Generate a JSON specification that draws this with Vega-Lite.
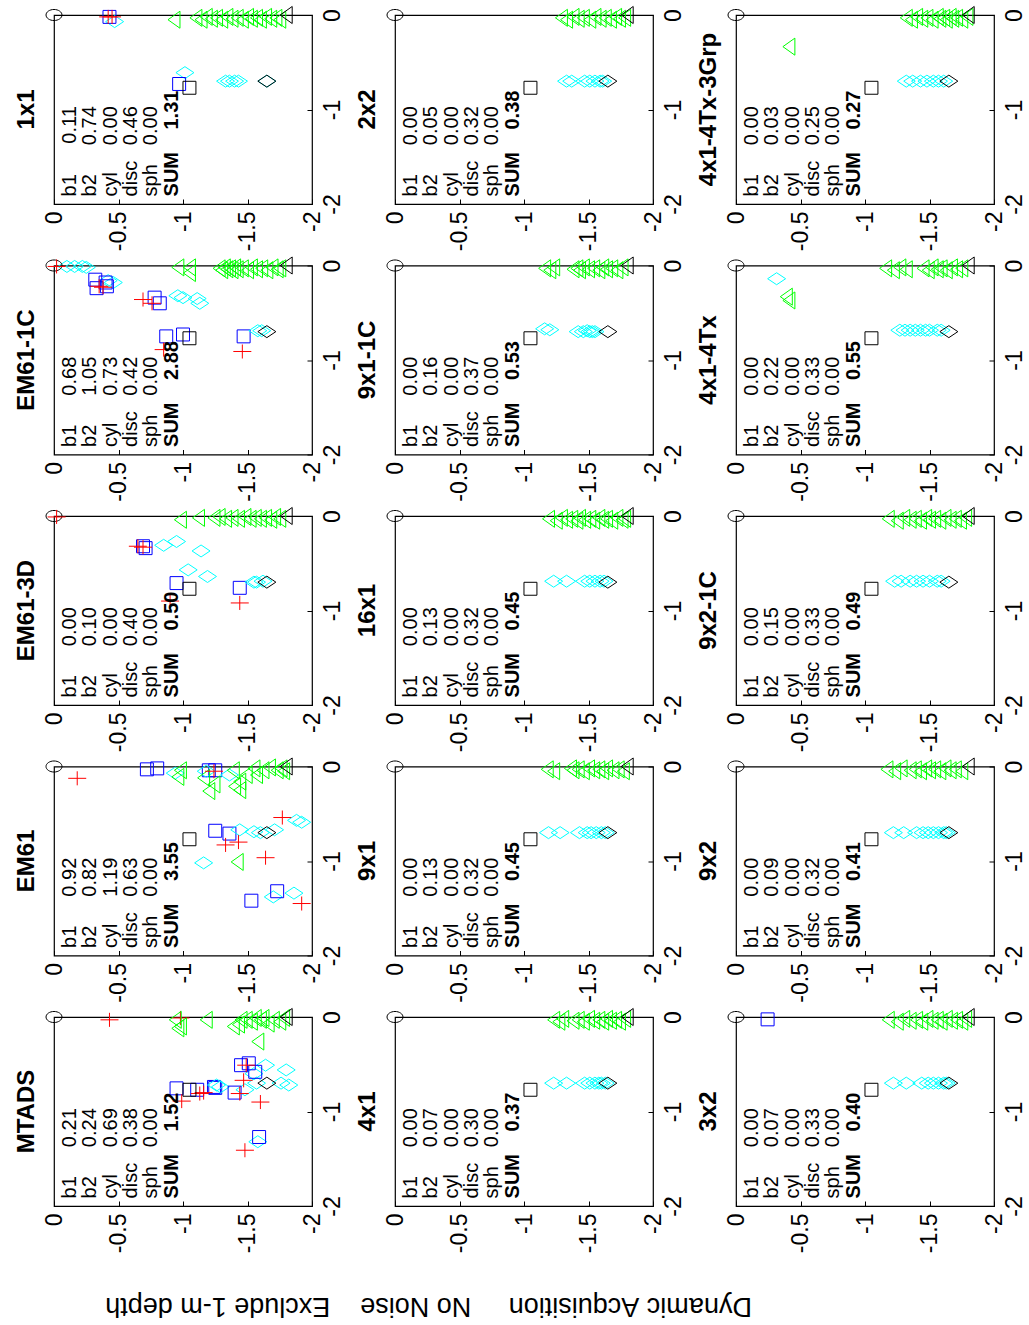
{
"$schema":"https://vega.github.io/schema/vega-lite/v6.json",
"background":"white",
"padding":{"left":14,"top":3,"right":0,"bottom":0},
"columns":3,
"spacing":{"row":61.5,"column":83},
"bounds":"flush",
"title":{"text":"Dynamic\u00a0Acquisition\u00a0\u00a0\u00a0\u00a0\u00a0No\u00a0Noise\u00a0\u00a0\u00a0\u00a0Exclude\u00a01-m\u00a0depth","orient":"bottom","angle":180,"fontSize":27,"fontWeight":"normal","anchor":"middle","dx":92,"offset":45,"baseline":"alphabetic","font":"Liberation Sans","color":"black"},
"datasets":{
"txt":[
{"p":"1x1","vals":"0.11\n0.74\n0.00\n0.46\n0.00","sum":"1.31"},
{"p":"2x2","vals":"0.00\n0.05\n0.00\n0.32\n0.00","sum":"0.38"},
{"p":"4x1-4Tx-3Grp","vals":"0.00\n0.03\n0.00\n0.25\n0.00","sum":"0.27"},
{"p":"EM61-1C","vals":"0.68\n1.05\n0.73\n0.42\n0.00","sum":"2.88"},
{"p":"9x1-1C","vals":"0.00\n0.16\n0.00\n0.37\n0.00","sum":"0.53"},
{"p":"4x1-4Tx","vals":"0.00\n0.22\n0.00\n0.33\n0.00","sum":"0.55"},
{"p":"EM61-3D","vals":"0.00\n0.10\n0.00\n0.40\n0.00","sum":"0.50"},
{"p":"16x1","vals":"0.00\n0.13\n0.00\n0.32\n0.00","sum":"0.45"},
{"p":"9x2-1C","vals":"0.00\n0.15\n0.00\n0.33\n0.00","sum":"0.49"},
{"p":"EM61","vals":"0.92\n0.82\n1.19\n0.63\n0.00","sum":"3.55"},
{"p":"9x1","vals":"0.00\n0.13\n0.00\n0.32\n0.00","sum":"0.45"},
{"p":"9x2","vals":"0.00\n0.09\n0.00\n0.32\n0.00","sum":"0.41"},
{"p":"MTADS","vals":"0.21\n0.24\n0.69\n0.38\n0.00","sum":"1.52"},
{"p":"4x1","vals":"0.00\n0.07\n0.00\n0.30\n0.00","sum":"0.37"},
{"p":"3x2","vals":"0.00\n0.07\n0.00\n0.33\n0.00","sum":"0.40"}
],
"pts":[
{"p":"1x1","s":"gT","h":-0.93,"v":-0.05},{"p":"1x1","s":"gT","h":-1.1,"v":-0.03},{"p":"1x1","s":"gT","h":-1.14,"v":-0.05},{"p":"1x1","s":"gT","h":-1.18,"v":-0.02},{"p":"1x1","s":"gT","h":-1.22,"v":-0.04},{"p":"1x1","s":"gT","h":-1.26,"v":-0.03},{"p":"1x1","s":"gT","h":-1.3,"v":-0.05},{"p":"1x1","s":"gT","h":-1.34,"v":-0.02},{"p":"1x1","s":"gT","h":-1.38,"v":-0.04},{"p":"1x1","s":"gT","h":-1.42,"v":-0.03},{"p":"1x1","s":"gT","h":-1.46,"v":-0.05},{"p":"1x1","s":"gT","h":-1.5,"v":-0.02},{"p":"1x1","s":"gT","h":-1.53,"v":-0.04},{"p":"1x1","s":"gT","h":-1.57,"v":-0.03},{"p":"1x1","s":"gT","h":-1.6,"v":-0.05},{"p":"1x1","s":"gT","h":-1.64,"v":-0.02},{"p":"1x1","s":"gT","h":-1.68,"v":-0.04},{"p":"1x1","s":"gT","h":-1.72,"v":-0.03},{"p":"1x1","s":"gT","h":-1.75,"v":-0.05},
{"p":"1x1","s":"cD","h":-0.47,"v":-0.07},{"p":"1x1","s":"bS","h":-0.43,"v":-0.02},{"p":"1x1","s":"rP","h":-0.42,"v":-0.02},{"p":"1x1","s":"rP","h":-0.45,"v":-0.02},
{"p":"1x1","s":"cD","h":-1.015,"v":-0.61},{"p":"1x1","s":"cD","h":-1.33,"v":-0.7},{"p":"1x1","s":"cD","h":-1.36,"v":-0.7},{"p":"1x1","s":"cD","h":-1.4,"v":-0.7},{"p":"1x1","s":"cD","h":-1.43,"v":-0.7},{"p":"1x1","s":"cD","h":-1.65,"v":-0.7},
{"p":"1x1","s":"bS","h":-0.97,"v":-0.73},
{"p":"1x1","s":"O","h":0,"v":0},{"p":"1x1","s":"kT","h":-1.8,"v":0},{"p":"1x1","s":"kD","h":-1.65,"v":-0.7},{"p":"1x1","s":"kS","h":-1.05,"v":-0.77},

{"p":"2x2","s":"gT","h":-1.29,"v":-0.03},{"p":"2x2","s":"gT","h":-1.33,"v":-0.05},{"p":"2x2","s":"gT","h":-1.38,"v":-0.02},{"p":"2x2","s":"gT","h":-1.42,"v":-0.04},{"p":"2x2","s":"gT","h":-1.46,"v":-0.03},{"p":"2x2","s":"gT","h":-1.51,"v":-0.05},{"p":"2x2","s":"gT","h":-1.55,"v":-0.02},{"p":"2x2","s":"gT","h":-1.59,"v":-0.04},{"p":"2x2","s":"gT","h":-1.63,"v":-0.03},{"p":"2x2","s":"gT","h":-1.67,"v":-0.05},{"p":"2x2","s":"gT","h":-1.71,"v":-0.02},{"p":"2x2","s":"gT","h":-1.74,"v":-0.04},{"p":"2x2","s":"gT","h":-1.78,"v":-0.03},
{"p":"2x2","s":"cD","h":-1.33,"v":-0.7},{"p":"2x2","s":"cD","h":-1.37,"v":-0.7},{"p":"2x2","s":"cD","h":-1.47,"v":-0.7},{"p":"2x2","s":"cD","h":-1.51,"v":-0.7},{"p":"2x2","s":"cD","h":-1.55,"v":-0.7},{"p":"2x2","s":"cD","h":-1.59,"v":-0.7},{"p":"2x2","s":"cD","h":-1.61,"v":-0.7},
{"p":"2x2","s":"O","h":0,"v":0},{"p":"2x2","s":"kT","h":-1.8,"v":0},{"p":"2x2","s":"kD","h":-1.65,"v":-0.7},{"p":"2x2","s":"kS","h":-1.05,"v":-0.77},

{"p":"4x1-4Tx-3Grp","s":"gT","h":-0.41,"v":-0.335},
{"p":"4x1-4Tx-3Grp","s":"gT","h":-1.32,"v":-0.03},{"p":"4x1-4Tx-3Grp","s":"gT","h":-1.36,"v":-0.05},{"p":"4x1-4Tx-3Grp","s":"gT","h":-1.4,"v":-0.02},{"p":"4x1-4Tx-3Grp","s":"gT","h":-1.44,"v":-0.04},{"p":"4x1-4Tx-3Grp","s":"gT","h":-1.48,"v":-0.03},{"p":"4x1-4Tx-3Grp","s":"gT","h":-1.52,"v":-0.05},{"p":"4x1-4Tx-3Grp","s":"gT","h":-1.56,"v":-0.02},{"p":"4x1-4Tx-3Grp","s":"gT","h":-1.58,"v":-0.04},{"p":"4x1-4Tx-3Grp","s":"gT","h":-1.61,"v":-0.03},{"p":"4x1-4Tx-3Grp","s":"gT","h":-1.63,"v":-0.05},{"p":"4x1-4Tx-3Grp","s":"gT","h":-1.66,"v":-0.02},{"p":"4x1-4Tx-3Grp","s":"gT","h":-1.68,"v":-0.04},{"p":"4x1-4Tx-3Grp","s":"gT","h":-1.71,"v":-0.03},{"p":"4x1-4Tx-3Grp","s":"gT","h":-1.75,"v":-0.05},{"p":"4x1-4Tx-3Grp","s":"gT","h":-1.79,"v":-0.02},
{"p":"4x1-4Tx-3Grp","s":"cD","h":-1.32,"v":-0.7},{"p":"4x1-4Tx-3Grp","s":"cD","h":-1.37,"v":-0.7},{"p":"4x1-4Tx-3Grp","s":"cD","h":-1.43,"v":-0.7},{"p":"4x1-4Tx-3Grp","s":"cD","h":-1.48,"v":-0.7},{"p":"4x1-4Tx-3Grp","s":"cD","h":-1.53,"v":-0.7},{"p":"4x1-4Tx-3Grp","s":"cD","h":-1.57,"v":-0.7},{"p":"4x1-4Tx-3Grp","s":"cD","h":-1.61,"v":-0.7},
{"p":"4x1-4Tx-3Grp","s":"O","h":0,"v":0},{"p":"4x1-4Tx-3Grp","s":"kT","h":-1.8,"v":0},{"p":"4x1-4Tx-3Grp","s":"kD","h":-1.65,"v":-0.7},{"p":"4x1-4Tx-3Grp","s":"kS","h":-1.05,"v":-0.77},

{"p":"EM61-1C","s":"cD","h":-0.1,"v":-0.01},{"p":"EM61-1C","s":"cD","h":-0.16,"v":-0.01},{"p":"EM61-1C","s":"cD","h":-0.22,"v":-0.01},{"p":"EM61-1C","s":"cD","h":-0.25,"v":-0.02},
{"p":"EM61-1C","s":"gT","h":-0.96,"v":-0.02},{"p":"EM61-1C","s":"gT","h":-1.05,"v":-0.02},{"p":"EM61-1C","s":"gT","h":-1.05,"v":-0.08},{"p":"EM61-1C","s":"gT","h":-1.28,"v":-0.03},{"p":"EM61-1C","s":"gT","h":-1.3,"v":-0.05},{"p":"EM61-1C","s":"gT","h":-1.32,"v":-0.02},{"p":"EM61-1C","s":"gT","h":-1.34,"v":-0.04},{"p":"EM61-1C","s":"gT","h":-1.36,"v":-0.03},{"p":"EM61-1C","s":"gT","h":-1.38,"v":-0.05},{"p":"EM61-1C","s":"gT","h":-1.4,"v":-0.02},{"p":"EM61-1C","s":"gT","h":-1.42,"v":-0.04},{"p":"EM61-1C","s":"gT","h":-1.46,"v":-0.03},{"p":"EM61-1C","s":"gT","h":-1.5,"v":-0.05},{"p":"EM61-1C","s":"gT","h":-1.53,"v":-0.02},{"p":"EM61-1C","s":"gT","h":-1.57,"v":-0.04},{"p":"EM61-1C","s":"gT","h":-1.61,"v":-0.03},{"p":"EM61-1C","s":"gT","h":-1.65,"v":-0.05},{"p":"EM61-1C","s":"gT","h":-1.69,"v":-0.02},{"p":"EM61-1C","s":"gT","h":-1.73,"v":-0.04},{"p":"EM61-1C","s":"gT","h":-1.75,"v":-0.03},
{"p":"EM61-1C","s":"cD","h":-0.42,"v":-0.16},{"p":"EM61-1C","s":"cD","h":-0.46,"v":-0.18},
{"p":"EM61-1C","s":"bS","h":-0.32,"v":-0.15},{"p":"EM61-1C","s":"bS","h":-0.33,"v":-0.24},{"p":"EM61-1C","s":"bS","h":-0.4,"v":-0.18},{"p":"EM61-1C","s":"bS","h":-0.41,"v":-0.22},
{"p":"EM61-1C","s":"rP","h":-0.35,"v":-0.22},{"p":"EM61-1C","s":"rP","h":-0.38,"v":-0.23},
{"p":"EM61-1C","s":"bS","h":-0.78,"v":-0.34},{"p":"EM61-1C","s":"bS","h":-0.82,"v":-0.4},
{"p":"EM61-1C","s":"rP","h":-0.69,"v":-0.36},{"p":"EM61-1C","s":"rP","h":-0.76,"v":-0.4},
{"p":"EM61-1C","s":"cD","h":-0.96,"v":-0.32},{"p":"EM61-1C","s":"cD","h":-1.0,"v":-0.34},{"p":"EM61-1C","s":"cD","h":-1.11,"v":-0.35},{"p":"EM61-1C","s":"cD","h":-1.13,"v":-0.4},
{"p":"EM61-1C","s":"bS","h":-0.87,"v":-0.75},{"p":"EM61-1C","s":"bS","h":-1.0,"v":-0.73},{"p":"EM61-1C","s":"bS","h":-1.47,"v":-0.75},
{"p":"EM61-1C","s":"rP","h":-0.85,"v":-0.89},{"p":"EM61-1C","s":"rP","h":-1.46,"v":-0.91},
{"p":"EM61-1C","s":"cD","h":-1.58,"v":-0.69},{"p":"EM61-1C","s":"cD","h":-1.61,"v":-0.69},
{"p":"EM61-1C","s":"O","h":0,"v":0},{"p":"EM61-1C","s":"rP","h":-0.02,"v":-0.01},{"p":"EM61-1C","s":"kT","h":-1.8,"v":0},{"p":"EM61-1C","s":"kD","h":-1.65,"v":-0.7},{"p":"EM61-1C","s":"kS","h":-1.05,"v":-0.77},

{"p":"9x1-1C","s":"gT","h":-1.16,"v":-0.03},{"p":"9x1-1C","s":"gT","h":-1.2,"v":-0.05},{"p":"9x1-1C","s":"gT","h":-1.23,"v":-0.02},{"p":"9x1-1C","s":"gT","h":-1.38,"v":-0.04},{"p":"9x1-1C","s":"gT","h":-1.41,"v":-0.03},{"p":"9x1-1C","s":"gT","h":-1.43,"v":-0.05},{"p":"9x1-1C","s":"gT","h":-1.46,"v":-0.02},{"p":"9x1-1C","s":"gT","h":-1.5,"v":-0.04},{"p":"9x1-1C","s":"gT","h":-1.54,"v":-0.03},{"p":"9x1-1C","s":"gT","h":-1.58,"v":-0.05},{"p":"9x1-1C","s":"gT","h":-1.61,"v":-0.02},{"p":"9x1-1C","s":"gT","h":-1.64,"v":-0.04},{"p":"9x1-1C","s":"gT","h":-1.68,"v":-0.03},{"p":"9x1-1C","s":"gT","h":-1.72,"v":-0.05},{"p":"9x1-1C","s":"gT","h":-1.76,"v":-0.02},
{"p":"9x1-1C","s":"cD","h":-1.16,"v":-0.67},{"p":"9x1-1C","s":"cD","h":-1.2,"v":-0.68},{"p":"9x1-1C","s":"cD","h":-1.42,"v":-0.7},{"p":"9x1-1C","s":"cD","h":-1.46,"v":-0.7},{"p":"9x1-1C","s":"cD","h":-1.49,"v":-0.69},{"p":"9x1-1C","s":"cD","h":-1.51,"v":-0.7},{"p":"9x1-1C","s":"cD","h":-1.53,"v":-0.7},{"p":"9x1-1C","s":"cD","h":-1.55,"v":-0.7},
{"p":"9x1-1C","s":"O","h":0,"v":0},{"p":"9x1-1C","s":"kT","h":-1.8,"v":0},{"p":"9x1-1C","s":"kD","h":-1.65,"v":-0.7},{"p":"9x1-1C","s":"kS","h":-1.05,"v":-0.77},

{"p":"4x1-4Tx","s":"cD","h":-0.315,"v":-0.14},{"p":"4x1-4Tx","s":"gT","h":-0.39,"v":-0.33},{"p":"4x1-4Tx","s":"gT","h":-0.41,"v":-0.37},
{"p":"4x1-4Tx","s":"gT","h":-1.16,"v":-0.03},{"p":"4x1-4Tx","s":"gT","h":-1.22,"v":-0.05},{"p":"4x1-4Tx","s":"gT","h":-1.27,"v":-0.02},{"p":"4x1-4Tx","s":"gT","h":-1.32,"v":-0.04},{"p":"4x1-4Tx","s":"gT","h":-1.45,"v":-0.03},{"p":"4x1-4Tx","s":"gT","h":-1.49,"v":-0.05},{"p":"4x1-4Tx","s":"gT","h":-1.52,"v":-0.02},{"p":"4x1-4Tx","s":"gT","h":-1.56,"v":-0.04},{"p":"4x1-4Tx","s":"gT","h":-1.59,"v":-0.03},{"p":"4x1-4Tx","s":"gT","h":-1.63,"v":-0.05},{"p":"4x1-4Tx","s":"gT","h":-1.67,"v":-0.02},{"p":"4x1-4Tx","s":"gT","h":-1.71,"v":-0.04},{"p":"4x1-4Tx","s":"gT","h":-1.75,"v":-0.03},
{"p":"4x1-4Tx","s":"cD","h":-1.27,"v":-0.685},{"p":"4x1-4Tx","s":"cD","h":-1.31,"v":-0.685},{"p":"4x1-4Tx","s":"cD","h":-1.35,"v":-0.685},{"p":"4x1-4Tx","s":"cD","h":-1.39,"v":-0.685},{"p":"4x1-4Tx","s":"cD","h":-1.43,"v":-0.685},{"p":"4x1-4Tx","s":"cD","h":-1.47,"v":-0.685},{"p":"4x1-4Tx","s":"cD","h":-1.5,"v":-0.685},{"p":"4x1-4Tx","s":"cD","h":-1.56,"v":-0.685},{"p":"4x1-4Tx","s":"cD","h":-1.59,"v":-0.685},
{"p":"4x1-4Tx","s":"O","h":0,"v":0},{"p":"4x1-4Tx","s":"kT","h":-1.8,"v":0},{"p":"4x1-4Tx","s":"kD","h":-1.65,"v":-0.7},{"p":"4x1-4Tx","s":"kS","h":-1.05,"v":-0.77},

{"p":"EM61-3D","s":"gT","h":-0.98,"v":-0.04},{"p":"EM61-3D","s":"gT","h":-1.12,"v":-0.02},{"p":"EM61-3D","s":"gT","h":-1.24,"v":-0.02},{"p":"EM61-3D","s":"gT","h":-1.28,"v":-0.01},{"p":"EM61-3D","s":"gT","h":-1.33,"v":-0.03},{"p":"EM61-3D","s":"gT","h":-1.38,"v":-0.02},{"p":"EM61-3D","s":"gT","h":-1.43,"v":-0.03},{"p":"EM61-3D","s":"gT","h":-1.48,"v":-0.01},{"p":"EM61-3D","s":"gT","h":-1.52,"v":-0.03},{"p":"EM61-3D","s":"gT","h":-1.56,"v":-0.02},{"p":"EM61-3D","s":"gT","h":-1.6,"v":-0.03},{"p":"EM61-3D","s":"gT","h":-1.64,"v":-0.02},{"p":"EM61-3D","s":"gT","h":-1.68,"v":-0.04},{"p":"EM61-3D","s":"gT","h":-1.71,"v":-0.01},{"p":"EM61-3D","s":"gT","h":-1.75,"v":-0.03},
{"p":"EM61-3D","s":"bS","h":-0.69,"v":-0.32},{"p":"EM61-3D","s":"bS","h":-0.71,"v":-0.34},
{"p":"EM61-3D","s":"rP","h":-0.65,"v":-0.32},{"p":"EM61-3D","s":"rP","h":-0.69,"v":-0.33},
{"p":"EM61-3D","s":"cD","h":-0.85,"v":-0.31},{"p":"EM61-3D","s":"cD","h":-0.95,"v":-0.27},{"p":"EM61-3D","s":"cD","h":-1.14,"v":-0.37},{"p":"EM61-3D","s":"cD","h":-1.04,"v":-0.57},{"p":"EM61-3D","s":"cD","h":-1.19,"v":-0.64},
{"p":"EM61-3D","s":"bS","h":-0.95,"v":-0.71},{"p":"EM61-3D","s":"bS","h":-1.44,"v":-0.76},
{"p":"EM61-3D","s":"rP","h":-0.9,"v":-0.9},{"p":"EM61-3D","s":"rP","h":-1.44,"v":-0.92},
{"p":"EM61-3D","s":"cD","h":-1.55,"v":-0.7},{"p":"EM61-3D","s":"cD","h":-1.57,"v":-0.7},{"p":"EM61-3D","s":"cD","h":-1.62,"v":-0.69},
{"p":"EM61-3D","s":"O","h":0,"v":0},{"p":"EM61-3D","s":"rP","h":-0.02,"v":-0.01},{"p":"EM61-3D","s":"kT","h":-1.8,"v":0},{"p":"EM61-3D","s":"kD","h":-1.65,"v":-0.7},{"p":"EM61-3D","s":"kS","h":-1.05,"v":-0.77},

{"p":"16x1","s":"gT","h":-1.19,"v":-0.03},{"p":"16x1","s":"gT","h":-1.25,"v":-0.05},{"p":"16x1","s":"gT","h":-1.29,"v":-0.02},{"p":"16x1","s":"gT","h":-1.33,"v":-0.04},{"p":"16x1","s":"gT","h":-1.37,"v":-0.03},{"p":"16x1","s":"gT","h":-1.41,"v":-0.05},{"p":"16x1","s":"gT","h":-1.43,"v":-0.02},{"p":"16x1","s":"gT","h":-1.47,"v":-0.04},{"p":"16x1","s":"gT","h":-1.51,"v":-0.03},{"p":"16x1","s":"gT","h":-1.54,"v":-0.05},{"p":"16x1","s":"gT","h":-1.58,"v":-0.02},{"p":"16x1","s":"gT","h":-1.61,"v":-0.04},{"p":"16x1","s":"gT","h":-1.64,"v":-0.03},{"p":"16x1","s":"gT","h":-1.68,"v":-0.05},{"p":"16x1","s":"gT","h":-1.72,"v":-0.02},{"p":"16x1","s":"gT","h":-1.76,"v":-0.04},{"p":"16x1","s":"gT","h":-1.78,"v":-0.03},
{"p":"16x1","s":"cD","h":-1.23,"v":-0.69},{"p":"16x1","s":"cD","h":-1.33,"v":-0.69},{"p":"16x1","s":"cD","h":-1.47,"v":-0.69},{"p":"16x1","s":"cD","h":-1.51,"v":-0.69},{"p":"16x1","s":"cD","h":-1.55,"v":-0.69},{"p":"16x1","s":"cD","h":-1.59,"v":-0.69},{"p":"16x1","s":"cD","h":-1.62,"v":-0.69},
{"p":"16x1","s":"O","h":0,"v":0},{"p":"16x1","s":"kT","h":-1.8,"v":0},{"p":"16x1","s":"kD","h":-1.65,"v":-0.7},{"p":"16x1","s":"kS","h":-1.05,"v":-0.77},

{"p":"9x2-1C","s":"gT","h":-1.18,"v":-0.03},{"p":"9x2-1C","s":"gT","h":-1.25,"v":-0.05},{"p":"9x2-1C","s":"gT","h":-1.3,"v":-0.02},{"p":"9x2-1C","s":"gT","h":-1.35,"v":-0.04},{"p":"9x2-1C","s":"gT","h":-1.39,"v":-0.03},{"p":"9x2-1C","s":"gT","h":-1.43,"v":-0.05},{"p":"9x2-1C","s":"gT","h":-1.47,"v":-0.02},{"p":"9x2-1C","s":"gT","h":-1.5,"v":-0.04},{"p":"9x2-1C","s":"gT","h":-1.54,"v":-0.03},{"p":"9x2-1C","s":"gT","h":-1.58,"v":-0.05},{"p":"9x2-1C","s":"gT","h":-1.62,"v":-0.02},{"p":"9x2-1C","s":"gT","h":-1.66,"v":-0.04},{"p":"9x2-1C","s":"gT","h":-1.7,"v":-0.03},{"p":"9x2-1C","s":"gT","h":-1.74,"v":-0.05},{"p":"9x2-1C","s":"gT","h":-1.78,"v":-0.02},
{"p":"9x2-1C","s":"cD","h":-1.23,"v":-0.69},{"p":"9x2-1C","s":"cD","h":-1.28,"v":-0.69},{"p":"9x2-1C","s":"cD","h":-1.35,"v":-0.69},{"p":"9x2-1C","s":"cD","h":-1.4,"v":-0.69},{"p":"9x2-1C","s":"cD","h":-1.45,"v":-0.69},{"p":"9x2-1C","s":"cD","h":-1.5,"v":-0.69},{"p":"9x2-1C","s":"cD","h":-1.56,"v":-0.69},{"p":"9x2-1C","s":"cD","h":-1.59,"v":-0.69},
{"p":"9x2-1C","s":"O","h":0,"v":0},{"p":"9x2-1C","s":"kT","h":-1.8,"v":0},{"p":"9x2-1C","s":"kD","h":-1.65,"v":-0.7},{"p":"9x2-1C","s":"kS","h":-1.05,"v":-0.77},

{"p":"EM61","s":"rP","h":-0.18,"v":-0.125},
{"p":"EM61","s":"bS","h":-0.72,"v":-0.03},{"p":"EM61","s":"bS","h":-0.8,"v":-0.02},{"p":"EM61","s":"bS","h":-1.2,"v":-0.04},{"p":"EM61","s":"bS","h":-1.25,"v":-0.04},
{"p":"EM61","s":"cD","h":-0.94,"v":-0.07},{"p":"EM61","s":"cD","h":-1.18,"v":-0.05},{"p":"EM61","s":"cD","h":-1.36,"v":-0.09},
{"p":"EM61","s":"gT","h":-0.98,"v":-0.04},{"p":"EM61","s":"gT","h":-0.96,"v":-0.11},{"p":"EM61","s":"gT","h":-1.16,"v":-0.12},{"p":"EM61","s":"gT","h":-1.2,"v":-0.26},{"p":"EM61","s":"gT","h":-1.24,"v":-0.19},{"p":"EM61","s":"gT","h":-1.39,"v":-0.04},{"p":"EM61","s":"gT","h":-1.4,"v":-0.21},{"p":"EM61","s":"gT","h":-1.44,"v":-0.25},{"p":"EM61","s":"gT","h":-1.44,"v":-0.16},{"p":"EM61","s":"gT","h":-1.49,"v":-0.09},{"p":"EM61","s":"gT","h":-1.55,"v":-0.02},{"p":"EM61","s":"gT","h":-1.57,"v":-0.09},{"p":"EM61","s":"gT","h":-1.62,"v":-0.04},{"p":"EM61","s":"gT","h":-1.67,"v":-0.01},{"p":"EM61","s":"gT","h":-1.73,"v":-0.04},{"p":"EM61","s":"gT","h":-1.76,"v":-0.02},{"p":"EM61","s":"gT","h":-1.78,"v":-0.05},
{"p":"EM61","s":"rP","h":-1.24,"v":-0.05},
{"p":"EM61","s":"bS","h":-1.25,"v":-0.68},{"p":"EM61","s":"bS","h":-1.36,"v":-0.71},
{"p":"EM61","s":"cD","h":-1.44,"v":-0.67},{"p":"EM61","s":"cD","h":-1.55,"v":-0.69},{"p":"EM61","s":"cD","h":-1.6,"v":-0.7},{"p":"EM61","s":"cD","h":-1.71,"v":-0.67},{"p":"EM61","s":"cD","h":-1.88,"v":-0.57},{"p":"EM61","s":"cD","h":-1.92,"v":-0.59},
{"p":"EM61","s":"rP","h":-1.33,"v":-0.83},{"p":"EM61","s":"rP","h":-1.43,"v":-0.8},{"p":"EM61","s":"rP","h":-1.64,"v":-0.965},{"p":"EM61","s":"rP","h":-1.77,"v":-0.54},{"p":"EM61","s":"rP","h":-1.92,"v":-1.45},
{"p":"EM61","s":"cD","h":-1.16,"v":-1.02},{"p":"EM61","s":"gT","h":-1.42,"v":-1.01},
{"p":"EM61","s":"cD","h":-1.7,"v":-1.38},{"p":"EM61","s":"cD","h":-1.86,"v":-1.34},
{"p":"EM61","s":"bS","h":-1.53,"v":-1.42},{"p":"EM61","s":"bS","h":-1.73,"v":-1.32},
{"p":"EM61","s":"O","h":0,"v":0},{"p":"EM61","s":"kT","h":-1.8,"v":0},{"p":"EM61","s":"kD","h":-1.65,"v":-0.7},{"p":"EM61","s":"kS","h":-1.05,"v":-0.77},

{"p":"9x1","s":"gT","h":-1.18,"v":-0.03},{"p":"9x1","s":"gT","h":-1.23,"v":-0.05},{"p":"9x1","s":"gT","h":-1.36,"v":-0.02},{"p":"9x1","s":"gT","h":-1.38,"v":-0.04},{"p":"9x1","s":"gT","h":-1.42,"v":-0.03},{"p":"9x1","s":"gT","h":-1.46,"v":-0.05},{"p":"9x1","s":"gT","h":-1.5,"v":-0.02},{"p":"9x1","s":"gT","h":-1.54,"v":-0.04},{"p":"9x1","s":"gT","h":-1.58,"v":-0.03},{"p":"9x1","s":"gT","h":-1.61,"v":-0.05},{"p":"9x1","s":"gT","h":-1.64,"v":-0.02},{"p":"9x1","s":"gT","h":-1.69,"v":-0.04},{"p":"9x1","s":"gT","h":-1.73,"v":-0.03},{"p":"9x1","s":"gT","h":-1.77,"v":-0.05},
{"p":"9x1","s":"cD","h":-1.19,"v":-0.7},{"p":"9x1","s":"cD","h":-1.28,"v":-0.7},{"p":"9x1","s":"cD","h":-1.43,"v":-0.7},{"p":"9x1","s":"cD","h":-1.49,"v":-0.7},{"p":"9x1","s":"cD","h":-1.52,"v":-0.7},{"p":"9x1","s":"cD","h":-1.56,"v":-0.7},{"p":"9x1","s":"cD","h":-1.6,"v":-0.7},{"p":"9x1","s":"cD","h":-1.63,"v":-0.7},
{"p":"9x1","s":"O","h":0,"v":0},{"p":"9x1","s":"kT","h":-1.8,"v":0},{"p":"9x1","s":"kD","h":-1.65,"v":-0.7},{"p":"9x1","s":"kS","h":-1.05,"v":-0.77},

{"p":"9x2","s":"gT","h":-1.17,"v":-0.03},{"p":"9x2","s":"gT","h":-1.23,"v":-0.05},{"p":"9x2","s":"gT","h":-1.28,"v":-0.02},{"p":"9x2","s":"gT","h":-1.35,"v":-0.04},{"p":"9x2","s":"gT","h":-1.39,"v":-0.03},{"p":"9x2","s":"gT","h":-1.43,"v":-0.05},{"p":"9x2","s":"gT","h":-1.47,"v":-0.02},{"p":"9x2","s":"gT","h":-1.5,"v":-0.04},{"p":"9x2","s":"gT","h":-1.54,"v":-0.03},{"p":"9x2","s":"gT","h":-1.58,"v":-0.05},{"p":"9x2","s":"gT","h":-1.62,"v":-0.02},{"p":"9x2","s":"gT","h":-1.66,"v":-0.04},{"p":"9x2","s":"gT","h":-1.7,"v":-0.03},{"p":"9x2","s":"gT","h":-1.75,"v":-0.05},
{"p":"9x2","s":"cD","h":-1.22,"v":-0.7},{"p":"9x2","s":"cD","h":-1.3,"v":-0.7},{"p":"9x2","s":"cD","h":-1.4,"v":-0.7},{"p":"9x2","s":"cD","h":-1.45,"v":-0.7},{"p":"9x2","s":"cD","h":-1.49,"v":-0.7},{"p":"9x2","s":"cD","h":-1.53,"v":-0.7},{"p":"9x2","s":"cD","h":-1.57,"v":-0.7},{"p":"9x2","s":"cD","h":-1.61,"v":-0.7},{"p":"9x2","s":"cD","h":-1.63,"v":-0.7},
{"p":"9x2","s":"O","h":0,"v":0},{"p":"9x2","s":"kT","h":-1.8,"v":0},{"p":"9x2","s":"kD","h":-1.65,"v":-0.7},{"p":"9x2","s":"kS","h":-1.05,"v":-0.77},

{"p":"MTADS","s":"rP","h":-0.43,"v":-0.03},{"p":"MTADS","s":"rP","h":-0.98,"v":-0.01},
{"p":"MTADS","s":"gT","h":-0.94,"v":-0.03},{"p":"MTADS","s":"gT","h":-0.98,"v":-0.1},{"p":"MTADS","s":"gT","h":-0.96,"v":-0.12},{"p":"MTADS","s":"gT","h":-1.18,"v":-0.03},{"p":"MTADS","s":"gT","h":-1.39,"v":-0.1},{"p":"MTADS","s":"gT","h":-1.43,"v":-0.08},{"p":"MTADS","s":"gT","h":-1.45,"v":-0.03},{"p":"MTADS","s":"gT","h":-1.49,"v":-0.03},{"p":"MTADS","s":"gT","h":-1.53,"v":-0.05},{"p":"MTADS","s":"gT","h":-1.56,"v":-0.01},{"p":"MTADS","s":"gT","h":-1.6,"v":-0.03},{"p":"MTADS","s":"gT","h":-1.62,"v":-0.01},{"p":"MTADS","s":"gT","h":-1.66,"v":-0.07},{"p":"MTADS","s":"gT","h":-1.7,"v":-0.03},{"p":"MTADS","s":"gT","h":-1.75,"v":-0.05},{"p":"MTADS","s":"gT","h":-1.78,"v":-0.01},{"p":"MTADS","s":"gT","h":-1.58,"v":-0.26},
{"p":"MTADS","s":"bS","h":-0.95,"v":-0.755},{"p":"MTADS","s":"bS","h":-1.11,"v":-0.77},{"p":"MTADS","s":"bS","h":-1.24,"v":-0.74},{"p":"MTADS","s":"bS","h":-1.25,"v":-0.75},
{"p":"MTADS","s":"rP","h":-0.99,"v":-0.89},{"p":"MTADS","s":"rP","h":-1.13,"v":-0.81},{"p":"MTADS","s":"rP","h":-1.16,"v":-0.8},
{"p":"MTADS","s":"cD","h":-1.26,"v":-0.72},{"p":"MTADS","s":"cD","h":-1.29,"v":-0.74},
{"p":"MTADS","s":"cD","h":-1.64,"v":-0.51},{"p":"MTADS","s":"cD","h":-1.55,"v":-0.6},{"p":"MTADS","s":"cD","h":-1.57,"v":-0.7},{"p":"MTADS","s":"cD","h":-1.48,"v":-0.77},{"p":"MTADS","s":"cD","h":-1.8,"v":-0.56},{"p":"MTADS","s":"cD","h":-1.76,"v":-0.7},{"p":"MTADS","s":"cD","h":-1.82,"v":-0.72},
{"p":"MTADS","s":"bS","h":-1.45,"v":-0.51},{"p":"MTADS","s":"bS","h":-1.51,"v":-0.49},{"p":"MTADS","s":"bS","h":-1.56,"v":-0.58},{"p":"MTADS","s":"bS","h":-1.4,"v":-0.8},
{"p":"MTADS","s":"rP","h":-1.49,"v":-0.51},{"p":"MTADS","s":"rP","h":-1.47,"v":-0.67},{"p":"MTADS","s":"rP","h":-1.44,"v":-0.81},{"p":"MTADS","s":"rP","h":-1.6,"v":-0.9},{"p":"MTADS","s":"rP","h":-1.48,"v":-1.41},
{"p":"MTADS","s":"cD","h":-1.58,"v":-1.32},{"p":"MTADS","s":"bS","h":-1.59,"v":-1.27},
{"p":"MTADS","s":"O","h":0,"v":0},{"p":"MTADS","s":"kT","h":-1.8,"v":0},{"p":"MTADS","s":"kD","h":-1.65,"v":-0.7},{"p":"MTADS","s":"kS","h":-1.05,"v":-0.77},

{"p":"4x1","s":"gT","h":-1.23,"v":-0.03},{"p":"4x1","s":"gT","h":-1.27,"v":-0.05},{"p":"4x1","s":"gT","h":-1.3,"v":-0.02},{"p":"4x1","s":"gT","h":-1.38,"v":-0.04},{"p":"4x1","s":"gT","h":-1.42,"v":-0.03},{"p":"4x1","s":"gT","h":-1.46,"v":-0.05},{"p":"4x1","s":"gT","h":-1.5,"v":-0.02},{"p":"4x1","s":"gT","h":-1.54,"v":-0.04},{"p":"4x1","s":"gT","h":-1.58,"v":-0.03},{"p":"4x1","s":"gT","h":-1.61,"v":-0.05},{"p":"4x1","s":"gT","h":-1.64,"v":-0.02},{"p":"4x1","s":"gT","h":-1.67,"v":-0.04},{"p":"4x1","s":"gT","h":-1.71,"v":-0.03},{"p":"4x1","s":"gT","h":-1.74,"v":-0.05},{"p":"4x1","s":"gT","h":-1.78,"v":-0.02},
{"p":"4x1","s":"cD","h":-1.23,"v":-0.7},{"p":"4x1","s":"cD","h":-1.33,"v":-0.7},{"p":"4x1","s":"cD","h":-1.47,"v":-0.7},{"p":"4x1","s":"cD","h":-1.51,"v":-0.7},{"p":"4x1","s":"cD","h":-1.55,"v":-0.7},{"p":"4x1","s":"cD","h":-1.58,"v":-0.7},{"p":"4x1","s":"cD","h":-1.6,"v":-0.7},{"p":"4x1","s":"cD","h":-1.63,"v":-0.7},
{"p":"4x1","s":"O","h":0,"v":0},{"p":"4x1","s":"kT","h":-1.8,"v":0},{"p":"4x1","s":"kD","h":-1.65,"v":-0.7},{"p":"4x1","s":"kS","h":-1.05,"v":-0.77},

{"p":"3x2","s":"bS","h":-0.245,"v":-0.025},
{"p":"3x2","s":"gT","h":-1.18,"v":-0.03},{"p":"3x2","s":"gT","h":-1.25,"v":-0.05},{"p":"3x2","s":"gT","h":-1.3,"v":-0.02},{"p":"3x2","s":"gT","h":-1.35,"v":-0.04},{"p":"3x2","s":"gT","h":-1.4,"v":-0.03},{"p":"3x2","s":"gT","h":-1.44,"v":-0.05},{"p":"3x2","s":"gT","h":-1.48,"v":-0.02},{"p":"3x2","s":"gT","h":-1.52,"v":-0.04},{"p":"3x2","s":"gT","h":-1.56,"v":-0.03},{"p":"3x2","s":"gT","h":-1.59,"v":-0.05},{"p":"3x2","s":"gT","h":-1.63,"v":-0.02},{"p":"3x2","s":"gT","h":-1.67,"v":-0.04},{"p":"3x2","s":"gT","h":-1.71,"v":-0.03},{"p":"3x2","s":"gT","h":-1.75,"v":-0.05},{"p":"3x2","s":"gT","h":-1.78,"v":-0.02},
{"p":"3x2","s":"cD","h":-1.22,"v":-0.7},{"p":"3x2","s":"cD","h":-1.32,"v":-0.7},{"p":"3x2","s":"cD","h":-1.44,"v":-0.7},{"p":"3x2","s":"cD","h":-1.49,"v":-0.7},{"p":"3x2","s":"cD","h":-1.53,"v":-0.7},{"p":"3x2","s":"cD","h":-1.57,"v":-0.7},{"p":"3x2","s":"cD","h":-1.61,"v":-0.7},{"p":"3x2","s":"cD","h":-1.63,"v":-0.7},
{"p":"3x2","s":"O","h":0,"v":0},{"p":"3x2","s":"kT","h":-1.8,"v":0},{"p":"3x2","s":"kD","h":-1.65,"v":-0.7},{"p":"3x2","s":"kS","h":-1.05,"v":-0.77}
]},
"concat":[
{"title":"1x1","width":258,"height":189,"layer":[
{"data":{"name":"pts"},"transform":[{"filter":"datum.p==='1x1'"}],"mark":{"type":"point","filled":false,"size":144,"strokeWidth":1,"opacity":1,"clip":false},"encoding":{"x":{"field":"h","type":"quantitative","scale":{"domain":[0,-2],"nice":false,"zero":false},"axis":{"values":[0,-0.5,-1,-1.5,-2],"title":null}},"y":{"field":"v","type":"quantitative","scale":{"domain":[-2,0],"nice":false,"zero":false},"axis":{"orient":"right","values":[0,-1,-2],"title":null}},"shape":{"field":"s","type":"nominal","scale":{"domain":["O","gT","kT","cD","kD","bS","kS","rP"],"range":["M-1.33,0A1.33,0.92,0,1,0,1.33,0A1.33,0.92,0,1,0,-1.33,0Z","M-1,0L1,-1.42L1,1.42Z","M-1,0L1,-1.42L1,1.42Z","M-1.5,0L0,-1L1.5,0L0,1Z","M-1.5,0L0,-1L1.5,0L0,1Z","M-1.08,-1.08L1.08,-1.08L1.08,1.08L-1.08,1.08Z","M-1.08,-1.08L1.08,-1.08L1.08,1.08L-1.08,1.08Z","M-1.5,0L1.5,0M0,-1.17L0,1.17"]},"legend":null},"stroke":{"field":"s","type":"nominal","scale":{"domain":["O","gT","kT","cD","kD","bS","kS","rP"],"range":["#000000","#00ff00","#000000","#00ffff","#000000","#0000ff","#000000","#ff0000"]},"legend":null}}},
{"data":{"name":"txt"},"transform":[{"filter":"datum.p==='1x1'"}],"mark":{"type":"text","text":["b1","b2","cyl","disc","sph"],"align":"left"},"encoding":{"x":{"datum":-0.045,"type":"quantitative"},"y":{"datum":-1.92,"type":"quantitative"}}},
{"data":{"name":"txt"},"transform":[{"filter":"datum.p==='1x1'"}],"mark":{"type":"text","align":"right"},"encoding":{"x":{"datum":-0.045,"type":"quantitative"},"y":{"datum":-0.965,"type":"quantitative"},"text":{"field":"vals","type":"nominal"}}},
{"data":{"name":"txt"},"transform":[{"filter":"datum.p==='1x1'"}],"mark":{"type":"text","text":"SUM","align":"left","fontWeight":"bold"},"encoding":{"x":{"datum":-0.84,"type":"quantitative"},"y":{"datum":-1.92,"type":"quantitative"}}},
{"data":{"name":"txt"},"transform":[{"filter":"datum.p==='1x1'"}],"mark":{"type":"text","align":"right","fontWeight":"bold"},"encoding":{"x":{"datum":-0.84,"type":"quantitative"},"y":{"datum":-0.8,"type":"quantitative"},"text":{"field":"sum","type":"nominal"}}}
]},
{"title":"2x2","width":258,"height":189,"layer":[
{"data":{"name":"pts"},"transform":[{"filter":"datum.p==='2x2'"}],"mark":{"type":"point","filled":false,"size":144,"strokeWidth":1,"opacity":1,"clip":false},"encoding":{"x":{"field":"h","type":"quantitative","scale":{"domain":[0,-2],"nice":false,"zero":false},"axis":{"values":[0,-0.5,-1,-1.5,-2],"title":null}},"y":{"field":"v","type":"quantitative","scale":{"domain":[-2,0],"nice":false,"zero":false},"axis":{"orient":"right","values":[0,-1,-2],"title":null}},"shape":{"field":"s","type":"nominal","scale":{"domain":["O","gT","kT","cD","kD","bS","kS","rP"],"range":["M-1.33,0A1.33,0.92,0,1,0,1.33,0A1.33,0.92,0,1,0,-1.33,0Z","M-1,0L1,-1.42L1,1.42Z","M-1,0L1,-1.42L1,1.42Z","M-1.5,0L0,-1L1.5,0L0,1Z","M-1.5,0L0,-1L1.5,0L0,1Z","M-1.08,-1.08L1.08,-1.08L1.08,1.08L-1.08,1.08Z","M-1.08,-1.08L1.08,-1.08L1.08,1.08L-1.08,1.08Z","M-1.5,0L1.5,0M0,-1.17L0,1.17"]},"legend":null},"stroke":{"field":"s","type":"nominal","scale":{"domain":["O","gT","kT","cD","kD","bS","kS","rP"],"range":["#000000","#00ff00","#000000","#00ffff","#000000","#0000ff","#000000","#ff0000"]},"legend":null}}},
{"data":{"name":"txt"},"transform":[{"filter":"datum.p==='2x2'"}],"mark":{"type":"text","text":["b1","b2","cyl","disc","sph"],"align":"left"},"encoding":{"x":{"datum":-0.045,"type":"quantitative"},"y":{"datum":-1.92,"type":"quantitative"}}},
{"data":{"name":"txt"},"transform":[{"filter":"datum.p==='2x2'"}],"mark":{"type":"text","align":"right"},"encoding":{"x":{"datum":-0.045,"type":"quantitative"},"y":{"datum":-0.965,"type":"quantitative"},"text":{"field":"vals","type":"nominal"}}},
{"data":{"name":"txt"},"transform":[{"filter":"datum.p==='2x2'"}],"mark":{"type":"text","text":"SUM","align":"left","fontWeight":"bold"},"encoding":{"x":{"datum":-0.84,"type":"quantitative"},"y":{"datum":-1.92,"type":"quantitative"}}},
{"data":{"name":"txt"},"transform":[{"filter":"datum.p==='2x2'"}],"mark":{"type":"text","align":"right","fontWeight":"bold"},"encoding":{"x":{"datum":-0.84,"type":"quantitative"},"y":{"datum":-0.8,"type":"quantitative"},"text":{"field":"sum","type":"nominal"}}}
]},
{"title":"4x1-4Tx-3Grp","width":258,"height":189,"layer":[
{"data":{"name":"pts"},"transform":[{"filter":"datum.p==='4x1-4Tx-3Grp'"}],"mark":{"type":"point","filled":false,"size":144,"strokeWidth":1,"opacity":1,"clip":false},"encoding":{"x":{"field":"h","type":"quantitative","scale":{"domain":[0,-2],"nice":false,"zero":false},"axis":{"values":[0,-0.5,-1,-1.5,-2],"title":null}},"y":{"field":"v","type":"quantitative","scale":{"domain":[-2,0],"nice":false,"zero":false},"axis":{"orient":"right","values":[0,-1,-2],"title":null}},"shape":{"field":"s","type":"nominal","scale":{"domain":["O","gT","kT","cD","kD","bS","kS","rP"],"range":["M-1.33,0A1.33,0.92,0,1,0,1.33,0A1.33,0.92,0,1,0,-1.33,0Z","M-1,0L1,-1.42L1,1.42Z","M-1,0L1,-1.42L1,1.42Z","M-1.5,0L0,-1L1.5,0L0,1Z","M-1.5,0L0,-1L1.5,0L0,1Z","M-1.08,-1.08L1.08,-1.08L1.08,1.08L-1.08,1.08Z","M-1.08,-1.08L1.08,-1.08L1.08,1.08L-1.08,1.08Z","M-1.5,0L1.5,0M0,-1.17L0,1.17"]},"legend":null},"stroke":{"field":"s","type":"nominal","scale":{"domain":["O","gT","kT","cD","kD","bS","kS","rP"],"range":["#000000","#00ff00","#000000","#00ffff","#000000","#0000ff","#000000","#ff0000"]},"legend":null}}},
{"data":{"name":"txt"},"transform":[{"filter":"datum.p==='4x1-4Tx-3Grp'"}],"mark":{"type":"text","text":["b1","b2","cyl","disc","sph"],"align":"left"},"encoding":{"x":{"datum":-0.045,"type":"quantitative"},"y":{"datum":-1.92,"type":"quantitative"}}},
{"data":{"name":"txt"},"transform":[{"filter":"datum.p==='4x1-4Tx-3Grp'"}],"mark":{"type":"text","align":"right"},"encoding":{"x":{"datum":-0.045,"type":"quantitative"},"y":{"datum":-0.965,"type":"quantitative"},"text":{"field":"vals","type":"nominal"}}},
{"data":{"name":"txt"},"transform":[{"filter":"datum.p==='4x1-4Tx-3Grp'"}],"mark":{"type":"text","text":"SUM","align":"left","fontWeight":"bold"},"encoding":{"x":{"datum":-0.84,"type":"quantitative"},"y":{"datum":-1.92,"type":"quantitative"}}},
{"data":{"name":"txt"},"transform":[{"filter":"datum.p==='4x1-4Tx-3Grp'"}],"mark":{"type":"text","align":"right","fontWeight":"bold"},"encoding":{"x":{"datum":-0.84,"type":"quantitative"},"y":{"datum":-0.8,"type":"quantitative"},"text":{"field":"sum","type":"nominal"}}}
]},
{"title":"EM61-1C","width":258,"height":189,"layer":[
{"data":{"name":"pts"},"transform":[{"filter":"datum.p==='EM61-1C'"}],"mark":{"type":"point","filled":false,"size":144,"strokeWidth":1,"opacity":1,"clip":false},"encoding":{"x":{"field":"h","type":"quantitative","scale":{"domain":[0,-2],"nice":false,"zero":false},"axis":{"values":[0,-0.5,-1,-1.5,-2],"title":null}},"y":{"field":"v","type":"quantitative","scale":{"domain":[-2,0],"nice":false,"zero":false},"axis":{"orient":"right","values":[0,-1,-2],"title":null}},"shape":{"field":"s","type":"nominal","scale":{"domain":["O","gT","kT","cD","kD","bS","kS","rP"],"range":["M-1.33,0A1.33,0.92,0,1,0,1.33,0A1.33,0.92,0,1,0,-1.33,0Z","M-1,0L1,-1.42L1,1.42Z","M-1,0L1,-1.42L1,1.42Z","M-1.5,0L0,-1L1.5,0L0,1Z","M-1.5,0L0,-1L1.5,0L0,1Z","M-1.08,-1.08L1.08,-1.08L1.08,1.08L-1.08,1.08Z","M-1.08,-1.08L1.08,-1.08L1.08,1.08L-1.08,1.08Z","M-1.5,0L1.5,0M0,-1.17L0,1.17"]},"legend":null},"stroke":{"field":"s","type":"nominal","scale":{"domain":["O","gT","kT","cD","kD","bS","kS","rP"],"range":["#000000","#00ff00","#000000","#00ffff","#000000","#0000ff","#000000","#ff0000"]},"legend":null}}},
{"data":{"name":"txt"},"transform":[{"filter":"datum.p==='EM61-1C'"}],"mark":{"type":"text","text":["b1","b2","cyl","disc","sph"],"align":"left"},"encoding":{"x":{"datum":-0.045,"type":"quantitative"},"y":{"datum":-1.92,"type":"quantitative"}}},
{"data":{"name":"txt"},"transform":[{"filter":"datum.p==='EM61-1C'"}],"mark":{"type":"text","align":"right"},"encoding":{"x":{"datum":-0.045,"type":"quantitative"},"y":{"datum":-0.965,"type":"quantitative"},"text":{"field":"vals","type":"nominal"}}},
{"data":{"name":"txt"},"transform":[{"filter":"datum.p==='EM61-1C'"}],"mark":{"type":"text","text":"SUM","align":"left","fontWeight":"bold"},"encoding":{"x":{"datum":-0.84,"type":"quantitative"},"y":{"datum":-1.92,"type":"quantitative"}}},
{"data":{"name":"txt"},"transform":[{"filter":"datum.p==='EM61-1C'"}],"mark":{"type":"text","align":"right","fontWeight":"bold"},"encoding":{"x":{"datum":-0.84,"type":"quantitative"},"y":{"datum":-0.8,"type":"quantitative"},"text":{"field":"sum","type":"nominal"}}}
]},
{"title":"9x1-1C","width":258,"height":189,"layer":[
{"data":{"name":"pts"},"transform":[{"filter":"datum.p==='9x1-1C'"}],"mark":{"type":"point","filled":false,"size":144,"strokeWidth":1,"opacity":1,"clip":false},"encoding":{"x":{"field":"h","type":"quantitative","scale":{"domain":[0,-2],"nice":false,"zero":false},"axis":{"values":[0,-0.5,-1,-1.5,-2],"title":null}},"y":{"field":"v","type":"quantitative","scale":{"domain":[-2,0],"nice":false,"zero":false},"axis":{"orient":"right","values":[0,-1,-2],"title":null}},"shape":{"field":"s","type":"nominal","scale":{"domain":["O","gT","kT","cD","kD","bS","kS","rP"],"range":["M-1.33,0A1.33,0.92,0,1,0,1.33,0A1.33,0.92,0,1,0,-1.33,0Z","M-1,0L1,-1.42L1,1.42Z","M-1,0L1,-1.42L1,1.42Z","M-1.5,0L0,-1L1.5,0L0,1Z","M-1.5,0L0,-1L1.5,0L0,1Z","M-1.08,-1.08L1.08,-1.08L1.08,1.08L-1.08,1.08Z","M-1.08,-1.08L1.08,-1.08L1.08,1.08L-1.08,1.08Z","M-1.5,0L1.5,0M0,-1.17L0,1.17"]},"legend":null},"stroke":{"field":"s","type":"nominal","scale":{"domain":["O","gT","kT","cD","kD","bS","kS","rP"],"range":["#000000","#00ff00","#000000","#00ffff","#000000","#0000ff","#000000","#ff0000"]},"legend":null}}},
{"data":{"name":"txt"},"transform":[{"filter":"datum.p==='9x1-1C'"}],"mark":{"type":"text","text":["b1","b2","cyl","disc","sph"],"align":"left"},"encoding":{"x":{"datum":-0.045,"type":"quantitative"},"y":{"datum":-1.92,"type":"quantitative"}}},
{"data":{"name":"txt"},"transform":[{"filter":"datum.p==='9x1-1C'"}],"mark":{"type":"text","align":"right"},"encoding":{"x":{"datum":-0.045,"type":"quantitative"},"y":{"datum":-0.965,"type":"quantitative"},"text":{"field":"vals","type":"nominal"}}},
{"data":{"name":"txt"},"transform":[{"filter":"datum.p==='9x1-1C'"}],"mark":{"type":"text","text":"SUM","align":"left","fontWeight":"bold"},"encoding":{"x":{"datum":-0.84,"type":"quantitative"},"y":{"datum":-1.92,"type":"quantitative"}}},
{"data":{"name":"txt"},"transform":[{"filter":"datum.p==='9x1-1C'"}],"mark":{"type":"text","align":"right","fontWeight":"bold"},"encoding":{"x":{"datum":-0.84,"type":"quantitative"},"y":{"datum":-0.8,"type":"quantitative"},"text":{"field":"sum","type":"nominal"}}}
]},
{"title":"4x1-4Tx","width":258,"height":189,"layer":[
{"data":{"name":"pts"},"transform":[{"filter":"datum.p==='4x1-4Tx'"}],"mark":{"type":"point","filled":false,"size":144,"strokeWidth":1,"opacity":1,"clip":false},"encoding":{"x":{"field":"h","type":"quantitative","scale":{"domain":[0,-2],"nice":false,"zero":false},"axis":{"values":[0,-0.5,-1,-1.5,-2],"title":null}},"y":{"field":"v","type":"quantitative","scale":{"domain":[-2,0],"nice":false,"zero":false},"axis":{"orient":"right","values":[0,-1,-2],"title":null}},"shape":{"field":"s","type":"nominal","scale":{"domain":["O","gT","kT","cD","kD","bS","kS","rP"],"range":["M-1.33,0A1.33,0.92,0,1,0,1.33,0A1.33,0.92,0,1,0,-1.33,0Z","M-1,0L1,-1.42L1,1.42Z","M-1,0L1,-1.42L1,1.42Z","M-1.5,0L0,-1L1.5,0L0,1Z","M-1.5,0L0,-1L1.5,0L0,1Z","M-1.08,-1.08L1.08,-1.08L1.08,1.08L-1.08,1.08Z","M-1.08,-1.08L1.08,-1.08L1.08,1.08L-1.08,1.08Z","M-1.5,0L1.5,0M0,-1.17L0,1.17"]},"legend":null},"stroke":{"field":"s","type":"nominal","scale":{"domain":["O","gT","kT","cD","kD","bS","kS","rP"],"range":["#000000","#00ff00","#000000","#00ffff","#000000","#0000ff","#000000","#ff0000"]},"legend":null}}},
{"data":{"name":"txt"},"transform":[{"filter":"datum.p==='4x1-4Tx'"}],"mark":{"type":"text","text":["b1","b2","cyl","disc","sph"],"align":"left"},"encoding":{"x":{"datum":-0.045,"type":"quantitative"},"y":{"datum":-1.92,"type":"quantitative"}}},
{"data":{"name":"txt"},"transform":[{"filter":"datum.p==='4x1-4Tx'"}],"mark":{"type":"text","align":"right"},"encoding":{"x":{"datum":-0.045,"type":"quantitative"},"y":{"datum":-0.965,"type":"quantitative"},"text":{"field":"vals","type":"nominal"}}},
{"data":{"name":"txt"},"transform":[{"filter":"datum.p==='4x1-4Tx'"}],"mark":{"type":"text","text":"SUM","align":"left","fontWeight":"bold"},"encoding":{"x":{"datum":-0.84,"type":"quantitative"},"y":{"datum":-1.92,"type":"quantitative"}}},
{"data":{"name":"txt"},"transform":[{"filter":"datum.p==='4x1-4Tx'"}],"mark":{"type":"text","align":"right","fontWeight":"bold"},"encoding":{"x":{"datum":-0.84,"type":"quantitative"},"y":{"datum":-0.8,"type":"quantitative"},"text":{"field":"sum","type":"nominal"}}}
]},
{"title":"EM61-3D","width":258,"height":189,"layer":[
{"data":{"name":"pts"},"transform":[{"filter":"datum.p==='EM61-3D'"}],"mark":{"type":"point","filled":false,"size":144,"strokeWidth":1,"opacity":1,"clip":false},"encoding":{"x":{"field":"h","type":"quantitative","scale":{"domain":[0,-2],"nice":false,"zero":false},"axis":{"values":[0,-0.5,-1,-1.5,-2],"title":null}},"y":{"field":"v","type":"quantitative","scale":{"domain":[-2,0],"nice":false,"zero":false},"axis":{"orient":"right","values":[0,-1,-2],"title":null}},"shape":{"field":"s","type":"nominal","scale":{"domain":["O","gT","kT","cD","kD","bS","kS","rP"],"range":["M-1.33,0A1.33,0.92,0,1,0,1.33,0A1.33,0.92,0,1,0,-1.33,0Z","M-1,0L1,-1.42L1,1.42Z","M-1,0L1,-1.42L1,1.42Z","M-1.5,0L0,-1L1.5,0L0,1Z","M-1.5,0L0,-1L1.5,0L0,1Z","M-1.08,-1.08L1.08,-1.08L1.08,1.08L-1.08,1.08Z","M-1.08,-1.08L1.08,-1.08L1.08,1.08L-1.08,1.08Z","M-1.5,0L1.5,0M0,-1.17L0,1.17"]},"legend":null},"stroke":{"field":"s","type":"nominal","scale":{"domain":["O","gT","kT","cD","kD","bS","kS","rP"],"range":["#000000","#00ff00","#000000","#00ffff","#000000","#0000ff","#000000","#ff0000"]},"legend":null}}},
{"data":{"name":"txt"},"transform":[{"filter":"datum.p==='EM61-3D'"}],"mark":{"type":"text","text":["b1","b2","cyl","disc","sph"],"align":"left"},"encoding":{"x":{"datum":-0.045,"type":"quantitative"},"y":{"datum":-1.92,"type":"quantitative"}}},
{"data":{"name":"txt"},"transform":[{"filter":"datum.p==='EM61-3D'"}],"mark":{"type":"text","align":"right"},"encoding":{"x":{"datum":-0.045,"type":"quantitative"},"y":{"datum":-0.965,"type":"quantitative"},"text":{"field":"vals","type":"nominal"}}},
{"data":{"name":"txt"},"transform":[{"filter":"datum.p==='EM61-3D'"}],"mark":{"type":"text","text":"SUM","align":"left","fontWeight":"bold"},"encoding":{"x":{"datum":-0.84,"type":"quantitative"},"y":{"datum":-1.92,"type":"quantitative"}}},
{"data":{"name":"txt"},"transform":[{"filter":"datum.p==='EM61-3D'"}],"mark":{"type":"text","align":"right","fontWeight":"bold"},"encoding":{"x":{"datum":-0.84,"type":"quantitative"},"y":{"datum":-0.8,"type":"quantitative"},"text":{"field":"sum","type":"nominal"}}}
]},
{"title":"16x1","width":258,"height":189,"layer":[
{"data":{"name":"pts"},"transform":[{"filter":"datum.p==='16x1'"}],"mark":{"type":"point","filled":false,"size":144,"strokeWidth":1,"opacity":1,"clip":false},"encoding":{"x":{"field":"h","type":"quantitative","scale":{"domain":[0,-2],"nice":false,"zero":false},"axis":{"values":[0,-0.5,-1,-1.5,-2],"title":null}},"y":{"field":"v","type":"quantitative","scale":{"domain":[-2,0],"nice":false,"zero":false},"axis":{"orient":"right","values":[0,-1,-2],"title":null}},"shape":{"field":"s","type":"nominal","scale":{"domain":["O","gT","kT","cD","kD","bS","kS","rP"],"range":["M-1.33,0A1.33,0.92,0,1,0,1.33,0A1.33,0.92,0,1,0,-1.33,0Z","M-1,0L1,-1.42L1,1.42Z","M-1,0L1,-1.42L1,1.42Z","M-1.5,0L0,-1L1.5,0L0,1Z","M-1.5,0L0,-1L1.5,0L0,1Z","M-1.08,-1.08L1.08,-1.08L1.08,1.08L-1.08,1.08Z","M-1.08,-1.08L1.08,-1.08L1.08,1.08L-1.08,1.08Z","M-1.5,0L1.5,0M0,-1.17L0,1.17"]},"legend":null},"stroke":{"field":"s","type":"nominal","scale":{"domain":["O","gT","kT","cD","kD","bS","kS","rP"],"range":["#000000","#00ff00","#000000","#00ffff","#000000","#0000ff","#000000","#ff0000"]},"legend":null}}},
{"data":{"name":"txt"},"transform":[{"filter":"datum.p==='16x1'"}],"mark":{"type":"text","text":["b1","b2","cyl","disc","sph"],"align":"left"},"encoding":{"x":{"datum":-0.045,"type":"quantitative"},"y":{"datum":-1.92,"type":"quantitative"}}},
{"data":{"name":"txt"},"transform":[{"filter":"datum.p==='16x1'"}],"mark":{"type":"text","align":"right"},"encoding":{"x":{"datum":-0.045,"type":"quantitative"},"y":{"datum":-0.965,"type":"quantitative"},"text":{"field":"vals","type":"nominal"}}},
{"data":{"name":"txt"},"transform":[{"filter":"datum.p==='16x1'"}],"mark":{"type":"text","text":"SUM","align":"left","fontWeight":"bold"},"encoding":{"x":{"datum":-0.84,"type":"quantitative"},"y":{"datum":-1.92,"type":"quantitative"}}},
{"data":{"name":"txt"},"transform":[{"filter":"datum.p==='16x1'"}],"mark":{"type":"text","align":"right","fontWeight":"bold"},"encoding":{"x":{"datum":-0.84,"type":"quantitative"},"y":{"datum":-0.8,"type":"quantitative"},"text":{"field":"sum","type":"nominal"}}}
]},
{"title":"9x2-1C","width":258,"height":189,"layer":[
{"data":{"name":"pts"},"transform":[{"filter":"datum.p==='9x2-1C'"}],"mark":{"type":"point","filled":false,"size":144,"strokeWidth":1,"opacity":1,"clip":false},"encoding":{"x":{"field":"h","type":"quantitative","scale":{"domain":[0,-2],"nice":false,"zero":false},"axis":{"values":[0,-0.5,-1,-1.5,-2],"title":null}},"y":{"field":"v","type":"quantitative","scale":{"domain":[-2,0],"nice":false,"zero":false},"axis":{"orient":"right","values":[0,-1,-2],"title":null}},"shape":{"field":"s","type":"nominal","scale":{"domain":["O","gT","kT","cD","kD","bS","kS","rP"],"range":["M-1.33,0A1.33,0.92,0,1,0,1.33,0A1.33,0.92,0,1,0,-1.33,0Z","M-1,0L1,-1.42L1,1.42Z","M-1,0L1,-1.42L1,1.42Z","M-1.5,0L0,-1L1.5,0L0,1Z","M-1.5,0L0,-1L1.5,0L0,1Z","M-1.08,-1.08L1.08,-1.08L1.08,1.08L-1.08,1.08Z","M-1.08,-1.08L1.08,-1.08L1.08,1.08L-1.08,1.08Z","M-1.5,0L1.5,0M0,-1.17L0,1.17"]},"legend":null},"stroke":{"field":"s","type":"nominal","scale":{"domain":["O","gT","kT","cD","kD","bS","kS","rP"],"range":["#000000","#00ff00","#000000","#00ffff","#000000","#0000ff","#000000","#ff0000"]},"legend":null}}},
{"data":{"name":"txt"},"transform":[{"filter":"datum.p==='9x2-1C'"}],"mark":{"type":"text","text":["b1","b2","cyl","disc","sph"],"align":"left"},"encoding":{"x":{"datum":-0.045,"type":"quantitative"},"y":{"datum":-1.92,"type":"quantitative"}}},
{"data":{"name":"txt"},"transform":[{"filter":"datum.p==='9x2-1C'"}],"mark":{"type":"text","align":"right"},"encoding":{"x":{"datum":-0.045,"type":"quantitative"},"y":{"datum":-0.965,"type":"quantitative"},"text":{"field":"vals","type":"nominal"}}},
{"data":{"name":"txt"},"transform":[{"filter":"datum.p==='9x2-1C'"}],"mark":{"type":"text","text":"SUM","align":"left","fontWeight":"bold"},"encoding":{"x":{"datum":-0.84,"type":"quantitative"},"y":{"datum":-1.92,"type":"quantitative"}}},
{"data":{"name":"txt"},"transform":[{"filter":"datum.p==='9x2-1C'"}],"mark":{"type":"text","align":"right","fontWeight":"bold"},"encoding":{"x":{"datum":-0.84,"type":"quantitative"},"y":{"datum":-0.8,"type":"quantitative"},"text":{"field":"sum","type":"nominal"}}}
]},
{"title":"EM61","width":258,"height":189,"layer":[
{"data":{"name":"pts"},"transform":[{"filter":"datum.p==='EM61'"}],"mark":{"type":"point","filled":false,"size":144,"strokeWidth":1,"opacity":1,"clip":false},"encoding":{"x":{"field":"h","type":"quantitative","scale":{"domain":[0,-2],"nice":false,"zero":false},"axis":{"values":[0,-0.5,-1,-1.5,-2],"title":null}},"y":{"field":"v","type":"quantitative","scale":{"domain":[-2,0],"nice":false,"zero":false},"axis":{"orient":"right","values":[0,-1,-2],"title":null}},"shape":{"field":"s","type":"nominal","scale":{"domain":["O","gT","kT","cD","kD","bS","kS","rP"],"range":["M-1.33,0A1.33,0.92,0,1,0,1.33,0A1.33,0.92,0,1,0,-1.33,0Z","M-1,0L1,-1.42L1,1.42Z","M-1,0L1,-1.42L1,1.42Z","M-1.5,0L0,-1L1.5,0L0,1Z","M-1.5,0L0,-1L1.5,0L0,1Z","M-1.08,-1.08L1.08,-1.08L1.08,1.08L-1.08,1.08Z","M-1.08,-1.08L1.08,-1.08L1.08,1.08L-1.08,1.08Z","M-1.5,0L1.5,0M0,-1.17L0,1.17"]},"legend":null},"stroke":{"field":"s","type":"nominal","scale":{"domain":["O","gT","kT","cD","kD","bS","kS","rP"],"range":["#000000","#00ff00","#000000","#00ffff","#000000","#0000ff","#000000","#ff0000"]},"legend":null}}},
{"data":{"name":"txt"},"transform":[{"filter":"datum.p==='EM61'"}],"mark":{"type":"text","text":["b1","b2","cyl","disc","sph"],"align":"left"},"encoding":{"x":{"datum":-0.045,"type":"quantitative"},"y":{"datum":-1.92,"type":"quantitative"}}},
{"data":{"name":"txt"},"transform":[{"filter":"datum.p==='EM61'"}],"mark":{"type":"text","align":"right"},"encoding":{"x":{"datum":-0.045,"type":"quantitative"},"y":{"datum":-0.965,"type":"quantitative"},"text":{"field":"vals","type":"nominal"}}},
{"data":{"name":"txt"},"transform":[{"filter":"datum.p==='EM61'"}],"mark":{"type":"text","text":"SUM","align":"left","fontWeight":"bold"},"encoding":{"x":{"datum":-0.84,"type":"quantitative"},"y":{"datum":-1.92,"type":"quantitative"}}},
{"data":{"name":"txt"},"transform":[{"filter":"datum.p==='EM61'"}],"mark":{"type":"text","align":"right","fontWeight":"bold"},"encoding":{"x":{"datum":-0.84,"type":"quantitative"},"y":{"datum":-0.8,"type":"quantitative"},"text":{"field":"sum","type":"nominal"}}}
]},
{"title":"9x1","width":258,"height":189,"layer":[
{"data":{"name":"pts"},"transform":[{"filter":"datum.p==='9x1'"}],"mark":{"type":"point","filled":false,"size":144,"strokeWidth":1,"opacity":1,"clip":false},"encoding":{"x":{"field":"h","type":"quantitative","scale":{"domain":[0,-2],"nice":false,"zero":false},"axis":{"values":[0,-0.5,-1,-1.5,-2],"title":null}},"y":{"field":"v","type":"quantitative","scale":{"domain":[-2,0],"nice":false,"zero":false},"axis":{"orient":"right","values":[0,-1,-2],"title":null}},"shape":{"field":"s","type":"nominal","scale":{"domain":["O","gT","kT","cD","kD","bS","kS","rP"],"range":["M-1.33,0A1.33,0.92,0,1,0,1.33,0A1.33,0.92,0,1,0,-1.33,0Z","M-1,0L1,-1.42L1,1.42Z","M-1,0L1,-1.42L1,1.42Z","M-1.5,0L0,-1L1.5,0L0,1Z","M-1.5,0L0,-1L1.5,0L0,1Z","M-1.08,-1.08L1.08,-1.08L1.08,1.08L-1.08,1.08Z","M-1.08,-1.08L1.08,-1.08L1.08,1.08L-1.08,1.08Z","M-1.5,0L1.5,0M0,-1.17L0,1.17"]},"legend":null},"stroke":{"field":"s","type":"nominal","scale":{"domain":["O","gT","kT","cD","kD","bS","kS","rP"],"range":["#000000","#00ff00","#000000","#00ffff","#000000","#0000ff","#000000","#ff0000"]},"legend":null}}},
{"data":{"name":"txt"},"transform":[{"filter":"datum.p==='9x1'"}],"mark":{"type":"text","text":["b1","b2","cyl","disc","sph"],"align":"left"},"encoding":{"x":{"datum":-0.045,"type":"quantitative"},"y":{"datum":-1.92,"type":"quantitative"}}},
{"data":{"name":"txt"},"transform":[{"filter":"datum.p==='9x1'"}],"mark":{"type":"text","align":"right"},"encoding":{"x":{"datum":-0.045,"type":"quantitative"},"y":{"datum":-0.965,"type":"quantitative"},"text":{"field":"vals","type":"nominal"}}},
{"data":{"name":"txt"},"transform":[{"filter":"datum.p==='9x1'"}],"mark":{"type":"text","text":"SUM","align":"left","fontWeight":"bold"},"encoding":{"x":{"datum":-0.84,"type":"quantitative"},"y":{"datum":-1.92,"type":"quantitative"}}},
{"data":{"name":"txt"},"transform":[{"filter":"datum.p==='9x1'"}],"mark":{"type":"text","align":"right","fontWeight":"bold"},"encoding":{"x":{"datum":-0.84,"type":"quantitative"},"y":{"datum":-0.8,"type":"quantitative"},"text":{"field":"sum","type":"nominal"}}}
]},
{"title":"9x2","width":258,"height":189,"layer":[
{"data":{"name":"pts"},"transform":[{"filter":"datum.p==='9x2'"}],"mark":{"type":"point","filled":false,"size":144,"strokeWidth":1,"opacity":1,"clip":false},"encoding":{"x":{"field":"h","type":"quantitative","scale":{"domain":[0,-2],"nice":false,"zero":false},"axis":{"values":[0,-0.5,-1,-1.5,-2],"title":null}},"y":{"field":"v","type":"quantitative","scale":{"domain":[-2,0],"nice":false,"zero":false},"axis":{"orient":"right","values":[0,-1,-2],"title":null}},"shape":{"field":"s","type":"nominal","scale":{"domain":["O","gT","kT","cD","kD","bS","kS","rP"],"range":["M-1.33,0A1.33,0.92,0,1,0,1.33,0A1.33,0.92,0,1,0,-1.33,0Z","M-1,0L1,-1.42L1,1.42Z","M-1,0L1,-1.42L1,1.42Z","M-1.5,0L0,-1L1.5,0L0,1Z","M-1.5,0L0,-1L1.5,0L0,1Z","M-1.08,-1.08L1.08,-1.08L1.08,1.08L-1.08,1.08Z","M-1.08,-1.08L1.08,-1.08L1.08,1.08L-1.08,1.08Z","M-1.5,0L1.5,0M0,-1.17L0,1.17"]},"legend":null},"stroke":{"field":"s","type":"nominal","scale":{"domain":["O","gT","kT","cD","kD","bS","kS","rP"],"range":["#000000","#00ff00","#000000","#00ffff","#000000","#0000ff","#000000","#ff0000"]},"legend":null}}},
{"data":{"name":"txt"},"transform":[{"filter":"datum.p==='9x2'"}],"mark":{"type":"text","text":["b1","b2","cyl","disc","sph"],"align":"left"},"encoding":{"x":{"datum":-0.045,"type":"quantitative"},"y":{"datum":-1.92,"type":"quantitative"}}},
{"data":{"name":"txt"},"transform":[{"filter":"datum.p==='9x2'"}],"mark":{"type":"text","align":"right"},"encoding":{"x":{"datum":-0.045,"type":"quantitative"},"y":{"datum":-0.965,"type":"quantitative"},"text":{"field":"vals","type":"nominal"}}},
{"data":{"name":"txt"},"transform":[{"filter":"datum.p==='9x2'"}],"mark":{"type":"text","text":"SUM","align":"left","fontWeight":"bold"},"encoding":{"x":{"datum":-0.84,"type":"quantitative"},"y":{"datum":-1.92,"type":"quantitative"}}},
{"data":{"name":"txt"},"transform":[{"filter":"datum.p==='9x2'"}],"mark":{"type":"text","align":"right","fontWeight":"bold"},"encoding":{"x":{"datum":-0.84,"type":"quantitative"},"y":{"datum":-0.8,"type":"quantitative"},"text":{"field":"sum","type":"nominal"}}}
]},
{"title":"MTADS","width":258,"height":189,"layer":[
{"data":{"name":"pts"},"transform":[{"filter":"datum.p==='MTADS'"}],"mark":{"type":"point","filled":false,"size":144,"strokeWidth":1,"opacity":1,"clip":false},"encoding":{"x":{"field":"h","type":"quantitative","scale":{"domain":[0,-2],"nice":false,"zero":false},"axis":{"values":[0,-0.5,-1,-1.5,-2],"title":null}},"y":{"field":"v","type":"quantitative","scale":{"domain":[-2,0],"nice":false,"zero":false},"axis":{"orient":"right","values":[0,-1,-2],"title":null}},"shape":{"field":"s","type":"nominal","scale":{"domain":["O","gT","kT","cD","kD","bS","kS","rP"],"range":["M-1.33,0A1.33,0.92,0,1,0,1.33,0A1.33,0.92,0,1,0,-1.33,0Z","M-1,0L1,-1.42L1,1.42Z","M-1,0L1,-1.42L1,1.42Z","M-1.5,0L0,-1L1.5,0L0,1Z","M-1.5,0L0,-1L1.5,0L0,1Z","M-1.08,-1.08L1.08,-1.08L1.08,1.08L-1.08,1.08Z","M-1.08,-1.08L1.08,-1.08L1.08,1.08L-1.08,1.08Z","M-1.5,0L1.5,0M0,-1.17L0,1.17"]},"legend":null},"stroke":{"field":"s","type":"nominal","scale":{"domain":["O","gT","kT","cD","kD","bS","kS","rP"],"range":["#000000","#00ff00","#000000","#00ffff","#000000","#0000ff","#000000","#ff0000"]},"legend":null}}},
{"data":{"name":"txt"},"transform":[{"filter":"datum.p==='MTADS'"}],"mark":{"type":"text","text":["b1","b2","cyl","disc","sph"],"align":"left"},"encoding":{"x":{"datum":-0.045,"type":"quantitative"},"y":{"datum":-1.92,"type":"quantitative"}}},
{"data":{"name":"txt"},"transform":[{"filter":"datum.p==='MTADS'"}],"mark":{"type":"text","align":"right"},"encoding":{"x":{"datum":-0.045,"type":"quantitative"},"y":{"datum":-0.965,"type":"quantitative"},"text":{"field":"vals","type":"nominal"}}},
{"data":{"name":"txt"},"transform":[{"filter":"datum.p==='MTADS'"}],"mark":{"type":"text","text":"SUM","align":"left","fontWeight":"bold"},"encoding":{"x":{"datum":-0.84,"type":"quantitative"},"y":{"datum":-1.92,"type":"quantitative"}}},
{"data":{"name":"txt"},"transform":[{"filter":"datum.p==='MTADS'"}],"mark":{"type":"text","align":"right","fontWeight":"bold"},"encoding":{"x":{"datum":-0.84,"type":"quantitative"},"y":{"datum":-0.8,"type":"quantitative"},"text":{"field":"sum","type":"nominal"}}}
]},
{"title":"4x1","width":258,"height":189,"layer":[
{"data":{"name":"pts"},"transform":[{"filter":"datum.p==='4x1'"}],"mark":{"type":"point","filled":false,"size":144,"strokeWidth":1,"opacity":1,"clip":false},"encoding":{"x":{"field":"h","type":"quantitative","scale":{"domain":[0,-2],"nice":false,"zero":false},"axis":{"values":[0,-0.5,-1,-1.5,-2],"title":null}},"y":{"field":"v","type":"quantitative","scale":{"domain":[-2,0],"nice":false,"zero":false},"axis":{"orient":"right","values":[0,-1,-2],"title":null}},"shape":{"field":"s","type":"nominal","scale":{"domain":["O","gT","kT","cD","kD","bS","kS","rP"],"range":["M-1.33,0A1.33,0.92,0,1,0,1.33,0A1.33,0.92,0,1,0,-1.33,0Z","M-1,0L1,-1.42L1,1.42Z","M-1,0L1,-1.42L1,1.42Z","M-1.5,0L0,-1L1.5,0L0,1Z","M-1.5,0L0,-1L1.5,0L0,1Z","M-1.08,-1.08L1.08,-1.08L1.08,1.08L-1.08,1.08Z","M-1.08,-1.08L1.08,-1.08L1.08,1.08L-1.08,1.08Z","M-1.5,0L1.5,0M0,-1.17L0,1.17"]},"legend":null},"stroke":{"field":"s","type":"nominal","scale":{"domain":["O","gT","kT","cD","kD","bS","kS","rP"],"range":["#000000","#00ff00","#000000","#00ffff","#000000","#0000ff","#000000","#ff0000"]},"legend":null}}},
{"data":{"name":"txt"},"transform":[{"filter":"datum.p==='4x1'"}],"mark":{"type":"text","text":["b1","b2","cyl","disc","sph"],"align":"left"},"encoding":{"x":{"datum":-0.045,"type":"quantitative"},"y":{"datum":-1.92,"type":"quantitative"}}},
{"data":{"name":"txt"},"transform":[{"filter":"datum.p==='4x1'"}],"mark":{"type":"text","align":"right"},"encoding":{"x":{"datum":-0.045,"type":"quantitative"},"y":{"datum":-0.965,"type":"quantitative"},"text":{"field":"vals","type":"nominal"}}},
{"data":{"name":"txt"},"transform":[{"filter":"datum.p==='4x1'"}],"mark":{"type":"text","text":"SUM","align":"left","fontWeight":"bold"},"encoding":{"x":{"datum":-0.84,"type":"quantitative"},"y":{"datum":-1.92,"type":"quantitative"}}},
{"data":{"name":"txt"},"transform":[{"filter":"datum.p==='4x1'"}],"mark":{"type":"text","align":"right","fontWeight":"bold"},"encoding":{"x":{"datum":-0.84,"type":"quantitative"},"y":{"datum":-0.8,"type":"quantitative"},"text":{"field":"sum","type":"nominal"}}}
]},
{"title":"3x2","width":258,"height":189,"layer":[
{"data":{"name":"pts"},"transform":[{"filter":"datum.p==='3x2'"}],"mark":{"type":"point","filled":false,"size":144,"strokeWidth":1,"opacity":1,"clip":false},"encoding":{"x":{"field":"h","type":"quantitative","scale":{"domain":[0,-2],"nice":false,"zero":false},"axis":{"values":[0,-0.5,-1,-1.5,-2],"title":null}},"y":{"field":"v","type":"quantitative","scale":{"domain":[-2,0],"nice":false,"zero":false},"axis":{"orient":"right","values":[0,-1,-2],"title":null}},"shape":{"field":"s","type":"nominal","scale":{"domain":["O","gT","kT","cD","kD","bS","kS","rP"],"range":["M-1.33,0A1.33,0.92,0,1,0,1.33,0A1.33,0.92,0,1,0,-1.33,0Z","M-1,0L1,-1.42L1,1.42Z","M-1,0L1,-1.42L1,1.42Z","M-1.5,0L0,-1L1.5,0L0,1Z","M-1.5,0L0,-1L1.5,0L0,1Z","M-1.08,-1.08L1.08,-1.08L1.08,1.08L-1.08,1.08Z","M-1.08,-1.08L1.08,-1.08L1.08,1.08L-1.08,1.08Z","M-1.5,0L1.5,0M0,-1.17L0,1.17"]},"legend":null},"stroke":{"field":"s","type":"nominal","scale":{"domain":["O","gT","kT","cD","kD","bS","kS","rP"],"range":["#000000","#00ff00","#000000","#00ffff","#000000","#0000ff","#000000","#ff0000"]},"legend":null}}},
{"data":{"name":"txt"},"transform":[{"filter":"datum.p==='3x2'"}],"mark":{"type":"text","text":["b1","b2","cyl","disc","sph"],"align":"left"},"encoding":{"x":{"datum":-0.045,"type":"quantitative"},"y":{"datum":-1.92,"type":"quantitative"}}},
{"data":{"name":"txt"},"transform":[{"filter":"datum.p==='3x2'"}],"mark":{"type":"text","align":"right"},"encoding":{"x":{"datum":-0.045,"type":"quantitative"},"y":{"datum":-0.965,"type":"quantitative"},"text":{"field":"vals","type":"nominal"}}},
{"data":{"name":"txt"},"transform":[{"filter":"datum.p==='3x2'"}],"mark":{"type":"text","text":"SUM","align":"left","fontWeight":"bold"},"encoding":{"x":{"datum":-0.84,"type":"quantitative"},"y":{"datum":-1.92,"type":"quantitative"}}},
{"data":{"name":"txt"},"transform":[{"filter":"datum.p==='3x2'"}],"mark":{"type":"text","align":"right","fontWeight":"bold"},"encoding":{"x":{"datum":-0.84,"type":"quantitative"},"y":{"datum":-0.8,"type":"quantitative"},"text":{"field":"sum","type":"nominal"}}}
]}
],
"config":{
"view":{"stroke":"black","strokeWidth":1.2,"fill":"white"},
"font":"Liberation Sans",
"text":{"angle":270,"baseline":"top","fontSize":20,"lineHeight":20.4,"font":"Liberation Sans","color":"black","lineBreak":"\n"},
"title":{"orient":"left","fontSize":24,"fontWeight":"bold","font":"Liberation Sans","color":"black","offset":4,"anchor":"middle"},
"axis":{"domain":false,"grid":false,"tickColor":"black","tickSize":-5,"tickWidth":1,"labelFont":"Liberation Sans","labelFontSize":23,"labelColor":"black","labelAngle":270,"labelOverlap":false,"labelFlush":false,"labelBound":false,"labelExpr":"datum.value == 0 ? '0' : '' + datum.value"},
"axisX":{"labelAlign":"right","labelBaseline":"middle","labelPadding":12},
"axisY":{"labelAlign":"center","labelBaseline":"top","labelPadding":14}
}
}
